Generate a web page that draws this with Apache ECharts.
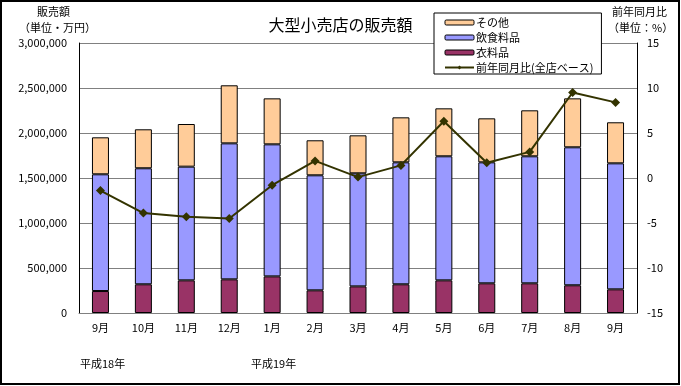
<!DOCTYPE html>
<html>
<head>
<meta charset="utf-8">
<script src="https://cdn.jsdelivr.net/npm/echarts@6/dist/echarts.min.js"></script>
<style>html,body{margin:0;padding:0;background:#fff}#c{width:681px;height:386px}</style>
</head>
<body>
<div id="c"></div>
<script>
const categories = ['9月','10月','11月','12月','1月','2月','3月','4月','5月','6月','7月','8月','9月'];
const clothing = [244000,319000,363000,374000,407000,252000,296000,319000,363000,330000,330000,308000,263000];
const food = [1297000,1289000,1263000,1511000,1467000,1278000,1256000,1355000,1378000,1344000,1411000,1533000,1400000];
const other = [411000,433000,474000,645000,511000,389000,422000,500000,533000,489000,511000,544000,456000];
const yoy = [-1.4,-3.9,-4.3,-4.5,-0.8,1.9,0.1,1.4,6.3,1.7,2.9,9.5,8.4];
const leftTicks = {min:0, max:3000000, interval:500000};
const rightTicks = {min:-15, max:15, interval:5};

const FONT = '"Noto Sans CJK JP", "Liberation Sans", sans-serif';
const chart = echarts.init(document.getElementById('c'), null, {renderer:'canvas'});
chart.setOption({
  animation:false,
  backgroundColor:'#fff',
  textStyle:{fontFamily:FONT, color:'#000'},
  title:{text:'大型小売店の販売額', left:'center', top:12, textStyle:{fontSize:16, fontWeight:'normal', color:'#000', fontFamily:FONT}},
  legend:{
    orient:'vertical', left:434, top:13,
    backgroundColor:'#fff', borderColor:'#000', borderWidth:1,
    padding:[3,8,0,10], itemGap:2, itemWidth:29, itemHeight:5,
    textStyle:{fontSize:11, color:'#000', fontFamily:FONT, lineHeight:13, padding:[0,0,0,-3]},
    data:[
      {name:'その他', itemStyle:{color:'#FFCC99', borderColor:'#000', borderWidth:1}},
      {name:'飲食料品', itemStyle:{color:'#9999FF', borderColor:'#000', borderWidth:1}},
      {name:'衣料品', itemStyle:{color:'#993366', borderColor:'#000', borderWidth:1}},
      {name:'前年同月比(全店ベース)'}
    ]
  },
  grid:{left:79, right:44, top:43, bottom:73},
  xAxis:{
    type:'category', data:categories,
    axisLine:{lineStyle:{color:'#808080', width:1}},
    axisTick:{show:false},
    axisLabel:{color:'#000', fontSize:11, margin:9, fontFamily:FONT}
  },
  yAxis:[
    {type:'value', min:leftTicks.min, max:leftTicks.max, interval:leftTicks.interval,
     axisLine:{show:true, lineStyle:{color:'#000'}}, axisTick:{show:false},
     splitLine:{lineStyle:{color:'#808080'}},
     axisLabel:{color:'#000', fontSize:11, margin:12, fontFamily:FONT, formatter:v=>v.toLocaleString('en-US')}},
    {type:'value', min:rightTicks.min, max:rightTicks.max, interval:rightTicks.interval,
     axisLine:{show:true, lineStyle:{color:'#000'}}, axisTick:{show:false},
     splitLine:{show:false},
     axisLabel:{color:'#000', fontSize:11, margin:10, fontFamily:FONT}}
  ],
  series:[
    {name:'衣料品', type:'bar', stack:'s', data:clothing, barWidth:17,
     itemStyle:{color:'#993366', borderColor:'#000', borderWidth:1}},
    {name:'飲食料品', type:'bar', stack:'s', data:food, barWidth:17,
     itemStyle:{color:'#9999FF', borderColor:'#000', borderWidth:1}},
    {name:'その他', type:'bar', stack:'s', data:other, barWidth:17,
     itemStyle:{color:'#FFCC99', borderColor:'#000', borderWidth:1}},
    {name:'前年同月比(全店ベース)', type:'line', yAxisIndex:1, data:yoy,
     symbol:'diamond', symbolSize:9, z:5,
     lineStyle:{color:'#333300', width:2}, itemStyle:{color:'#333300'}}
  ],
  graphic:[
    {type:'rect', shape:{x:1, y:1, width:678, height:383}, style:{fill:null, stroke:'#000', lineWidth:2}, silent:true},
    {type:'text', left:37, top:6, style:{text:'販売額', fontSize:11, fill:'#000', fontFamily:FONT}},
    {type:'text', left:19, top:22, style:{text:'（単位・万円）', fontSize:11, fill:'#000', fontFamily:FONT}},
    {type:'text', left:612, top:6, style:{text:'前年同月比', fontSize:11, fill:'#000', fontFamily:FONT}},
    {type:'text', left:608, top:22, style:{text:'（単位：%）', fontSize:11, fill:'#000', fontFamily:FONT}},
    {type:'text', left:80, top:358, style:{text:'平成18年', fontSize:11, fill:'#000', fontFamily:FONT}},
    {type:'text', left:251, top:358, style:{text:'平成19年', fontSize:11, fill:'#000', fontFamily:FONT}}
  ]
});
</script>
</body>
</html>
